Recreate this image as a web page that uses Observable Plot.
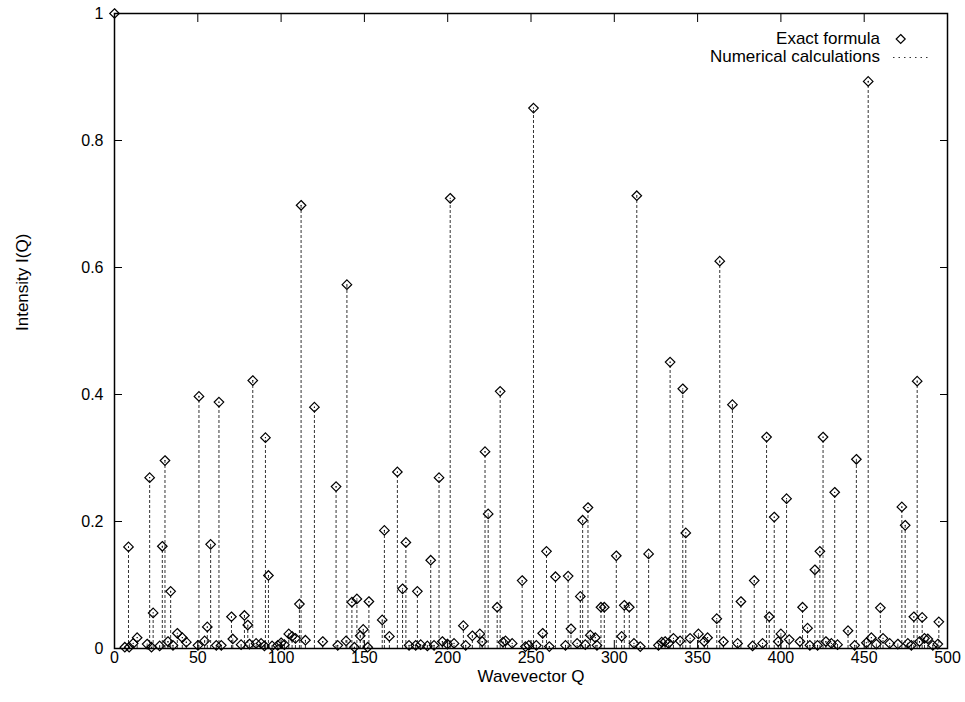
<!DOCTYPE html>
<html>
<head>
<meta charset="utf-8">
<script src="https://cdn.jsdelivr.net/npm/d3@7"></script>
<script src="https://cdn.jsdelivr.net/npm/@observablehq/plot@0.6"></script>
<style>
  body { margin: 0; background: #fff; }
  #wrap { position: relative; width: 965px; height: 702px; font-family: "Liberation Sans", Arial, sans-serif; }
  #legend { position: absolute; right: 85px; top: 30px; font-size: 17px; color: #000; text-align: right; line-height: 17.6px; }
  #legend .row { position: relative; white-space: nowrap; }
  #legend svg { position: absolute; left: 100%; top: 0; overflow: visible; }
</style>
</head>
<body>
<div id="wrap"><div id="legend"></div></div>
<script>
// Wavevector Q of each peak
const wavevector = [
  0, 6.2, 8.4, 8.8, 11.2, 13.6, 19.6, 21.1, 22.2, 23.2, 27.1, 28.7, 30.3, 32.1, 33.7, 35.1, 37.7, 40.7, 43.1,
  50.1, 50.7, 54.1, 55.7, 57.7, 61.1, 62.7, 64.1, 70.2, 71, 76, 78, 80, 81, 83, 85, 88, 90, 90.6, 92.4, 94.6,
  98, 100, 102, 104.6, 106.6, 108.6, 111, 112, 114.6, 120, 125, 133, 134, 139, 139.5, 142.5, 144, 145.5,
  147.5, 149.3, 152, 152.7, 160.7, 162, 165, 169.8, 172.9, 174.9, 176.8, 180.8, 181.8, 183.8, 187.8, 189.8,
  191.8, 194.8, 196.8, 199.8, 201.5, 203.8, 209.4, 210.8, 214.8, 219.3, 220.7, 222.4, 224.3, 229.7, 231.5,
  233.2, 234.7, 238.7, 244.7, 246.7, 248.7, 251.5, 253.2, 257, 259.3, 261, 264.7, 270.7, 272.3, 274, 277.7,
  279.6, 281, 282.6, 284.2, 285.6, 288.6, 289.6, 292, 294, 301.2, 304.4, 306, 309, 311.8, 313.5, 315.6,
  320.6, 326.5, 328.5, 330.5, 332.5, 333.5, 335.5, 339.5, 341.1, 342.9, 345.5, 350.5, 354, 356, 361.5,
  363.3, 365.5, 370.9, 374, 376, 383, 384, 389, 391.4, 393, 396, 398.4, 400, 403.4, 405, 411.4, 413, 416,
  417.4, 420.4, 422, 423.4, 425.3, 427, 430.3, 432.3, 434, 440.3, 444.3, 445.3, 451.3, 452.4, 454.3, 457.3,
  459.7, 461.3, 465.3, 470.2, 472.6, 474.6, 476.2, 478.3, 479.8, 481.8, 483.2, 484.8, 486.2, 488.2, 491.2,
  494.2, 494.8
];
// Intensity I(Q) of each peak
const intensity = [
  1.0, 0.002, 0.16, 0.002, 0.008, 0.017, 0.007, 0.269, 0.002, 0.056, 0.004, 0.161, 0.296, 0.011, 0.09, 0.005, 0.024, 0.017, 0.01,
  0.005, 0.397, 0.012, 0.034, 0.164, 0.005, 0.388, 0.005, 0.05, 0.015, 0.006, 0.052, 0.037, 0.007, 0.422, 0.008, 0.008, 0.004, 0.332, 0.115, 0.004,
  0.005, 0.009, 0.006, 0.023, 0.019, 0.016, 0.07, 0.698, 0.013, 0.38, 0.011, 0.255, 0.005, 0.012, 0.573, 0.073, 0.002, 0.078,
  0.02, 0.03, 0.002, 0.074, 0.045, 0.186, 0.019, 0.278, 0.094, 0.167, 0.005, 0.005, 0.09, 0.006, 0.004, 0.139,
  0.005, 0.269, 0.011, 0.007, 0.709, 0.008, 0.036, 0.005, 0.02, 0.023, 0.011, 0.31, 0.212, 0.065, 0.405,
  0.01, 0.012, 0.008, 0.107, 0.003, 0.005, 0.851, 0.005, 0.024, 0.153, 0.003, 0.113, 0.005, 0.114, 0.031, 0.008,
  0.082, 0.202, 0.006, 0.222, 0.021, 0.017, 0.005, 0.065, 0.065, 0.146, 0.019, 0.068, 0.065, 0.008, 0.713, 0.003,
  0.149, 0.005, 0.01, 0.011, 0.008, 0.451, 0.016, 0.012, 0.409, 0.182, 0.016, 0.023, 0.011, 0.017, 0.047,
  0.61, 0.011, 0.384, 0.008, 0.074, 0.004, 0.107, 0.008, 0.333, 0.05, 0.207, 0.011, 0.023, 0.236, 0.014, 0.011, 0.065, 0.032,
  0.005, 0.124, 0.005, 0.153, 0.333, 0.011, 0.008, 0.246, 0.006, 0.028, 0.005, 0.298, 0.009, 0.893, 0.017, 0.007,
  0.064, 0.016, 0.008, 0.007, 0.223, 0.194, 0.008, 0.005, 0.05, 0.421, 0.011, 0.049, 0.016, 0.015, 0.005,
  0.007, 0.042
];
const xTicks = [0, 50, 100, 150, 200, 250, 300, 350, 400, 450, 500];
const yTicks = [0, 0.2, 0.4, 0.6, 0.8, 1];
const yTickLabels = ["0", "0.2", "0.4", "0.6", "0.8", "1"];
const xLabel = "Wavevector Q";
const yLabel = "Intensity I(Q)";
const legendLabels = ["Exact formula", "Numerical calculations"];

const data = wavevector.map((q, i) => ({q, v: intensity[i]}));
const font = "Liberation Sans, Arial, sans-serif";

const chart = Plot.plot({
  width: 965,
  height: 702,
  marginLeft: 114,
  marginRight: 18,
  marginTop: 13,
  marginBottom: 54,
  style: {fontFamily: font, fontSize: "16px", background: "#fff", color: "#000"},
  x: {domain: [0, 500]},
  y: {domain: [0, 1]},
  marks: [
    Plot.ruleX(data, {x: "q", y1: 0, y2: "v", stroke: "#333", strokeWidth: 1, strokeDasharray: "3,2"}),
    Plot.dot(data, {x: "q", y: "v", symbol: "diamond2", r: 4.3, stroke: "#000", strokeWidth: 1.2, fill: "none"}),
    Plot.dot(data, {x: "q", y: "v", r: 0.6, fill: "#000", stroke: "none"}),
    Plot.frame({stroke: "#000", strokeWidth: 1.5}),
    Plot.axisX(xTicks, {anchor: "bottom", tickSize: -8, tickPadding: 11, tickFormat: d => String(d), label: null, fontSize: 16}),
    Plot.axisX(xTicks, {anchor: "top", tickSize: -8, fill: "none", label: null}),
    Plot.axisY(yTicks, {anchor: "left", tickSize: -8, tickPadding: 19, tickFormat: (d, i) => yTickLabels[i], label: null, fontSize: 16}),
    Plot.axisY(yTicks, {anchor: "right", tickSize: -8, fill: "none", label: null}),
    Plot.text([xLabel], {frameAnchor: "bottom", dy: 28, lineAnchor: "middle", fontSize: 17, text: d => d}),
    Plot.text([yLabel], {frameAnchor: "left", dx: -92, rotate: -90, lineAnchor: "middle", fontSize: 17, text: d => d})
  ]
});
const wrap = document.getElementById("wrap");
wrap.insertBefore(chart, wrap.firstChild);

// legend
const legend = document.getElementById("legend");
legendLabels.forEach((label, i) => {
  const row = document.createElement("div");
  row.className = "row";
  row.textContent = label;
  const ns = "http://www.w3.org/2000/svg";
  const s = document.createElementNS(ns, "svg");
  s.setAttribute("width", "50"); s.setAttribute("height", "18");
  if (i === 0) {
    const p = document.createElementNS(ns, "path");
    p.setAttribute("d", "M20.7,4.5 L25.2,9 L20.7,13.5 L16.2,9 Z");
    p.setAttribute("fill", "none"); p.setAttribute("stroke", "#000"); p.setAttribute("stroke-width", "1.2");
    s.appendChild(p);
  } else {
    const l = document.createElementNS(ns, "line");
    l.setAttribute("x1", "13"); l.setAttribute("x2", "48"); l.setAttribute("y1", "9.5"); l.setAttribute("y2", "9.5");
    l.setAttribute("stroke", "#333"); l.setAttribute("stroke-width", "1"); l.setAttribute("stroke-dasharray", "1.5,4");
    s.appendChild(l);
  }
  row.appendChild(s);
  legend.appendChild(row);
});
</script>
</body>
</html>
